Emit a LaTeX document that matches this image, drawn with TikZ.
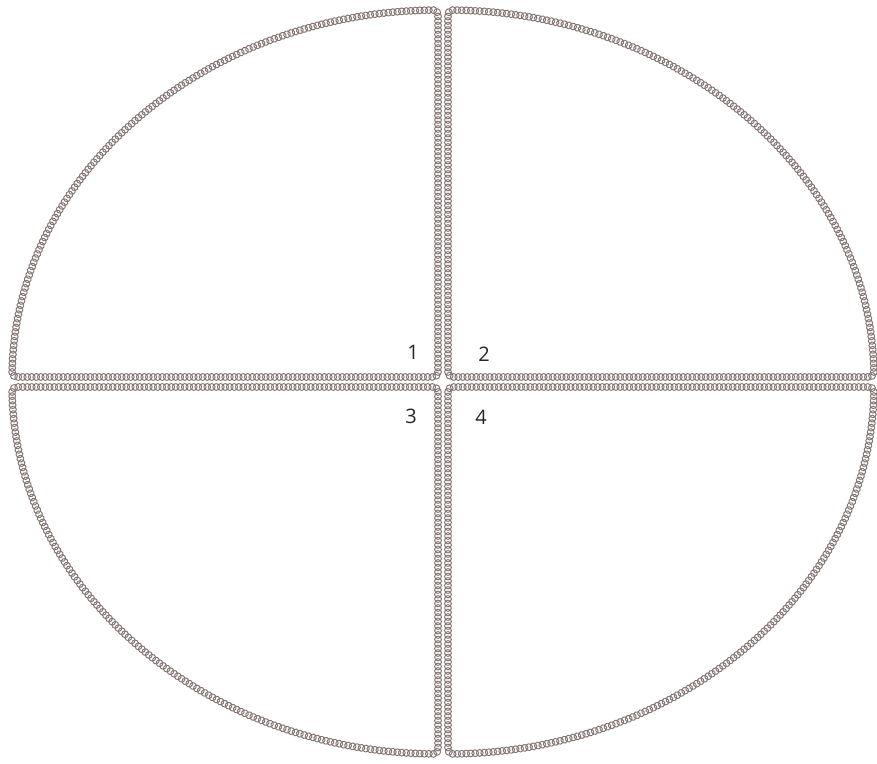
\documentclass[tikz,border=0pt]{standalone}
\usepackage{fontspec}
\setsansfont{Open Sans}
\usetikzlibrary{calc,decorations.markings}
\definecolor{linkcol}{HTML}{857775}
\tikzset{
  chainlink/.style={rounded corners=5pt, postaction={decorate},
    decoration={markings, mark=between positions 0 and 1 step 4.5pt with
      {\draw[linkcol, line width=1pt] (0,0) circle (3.4pt);}}},
  quadnum/.style={font=\sffamily\fontsize{20}{21}\selectfont, text=black!85, inner sep=0pt},
}

\begin{document}
\begin{tikzpicture}[x=1pt, y=1pt]
    \useasboundingbox (0,0) rectangle (877,763);
    \coordinate (c) at (443,381);
    % four quarters of the ellipse, each with its own chain border
    \path[chainlink] ($(c)+(-5,5)$) -- ($(c)+(90.66:431pt and 372pt)$)
      arc[start angle=90.66, end angle=179.23, x radius=431pt, y radius=372pt] -- cycle;
    \path[chainlink] ($(c)+(5,5)$) -- ($(c)+(89.34:431pt and 372pt)$)
      arc[start angle=89.34, end angle=0.77, x radius=431pt, y radius=372pt] -- cycle;
    \path[chainlink] ($(c)+(-5,-5)$) -- ($(c)+(269.34:431pt and 372pt)$)
      arc[start angle=269.34, end angle=180.77, x radius=431pt, y radius=372pt] -- cycle;
    \path[chainlink] ($(c)+(5,-5)$) -- ($(c)+(270.66:431pt and 372pt)$)
      arc[start angle=270.66, end angle=359.23, x radius=431pt, y radius=372pt] -- cycle;
    \node[quadnum] (n1) at (413,411) {1};
    \node[quadnum] (n2) at (484,409) {2};
    \node[quadnum] (n3) at (411,347) {3};
    \node[quadnum] (n4) at (481,346) {4};
\end{tikzpicture}
\end{document}
